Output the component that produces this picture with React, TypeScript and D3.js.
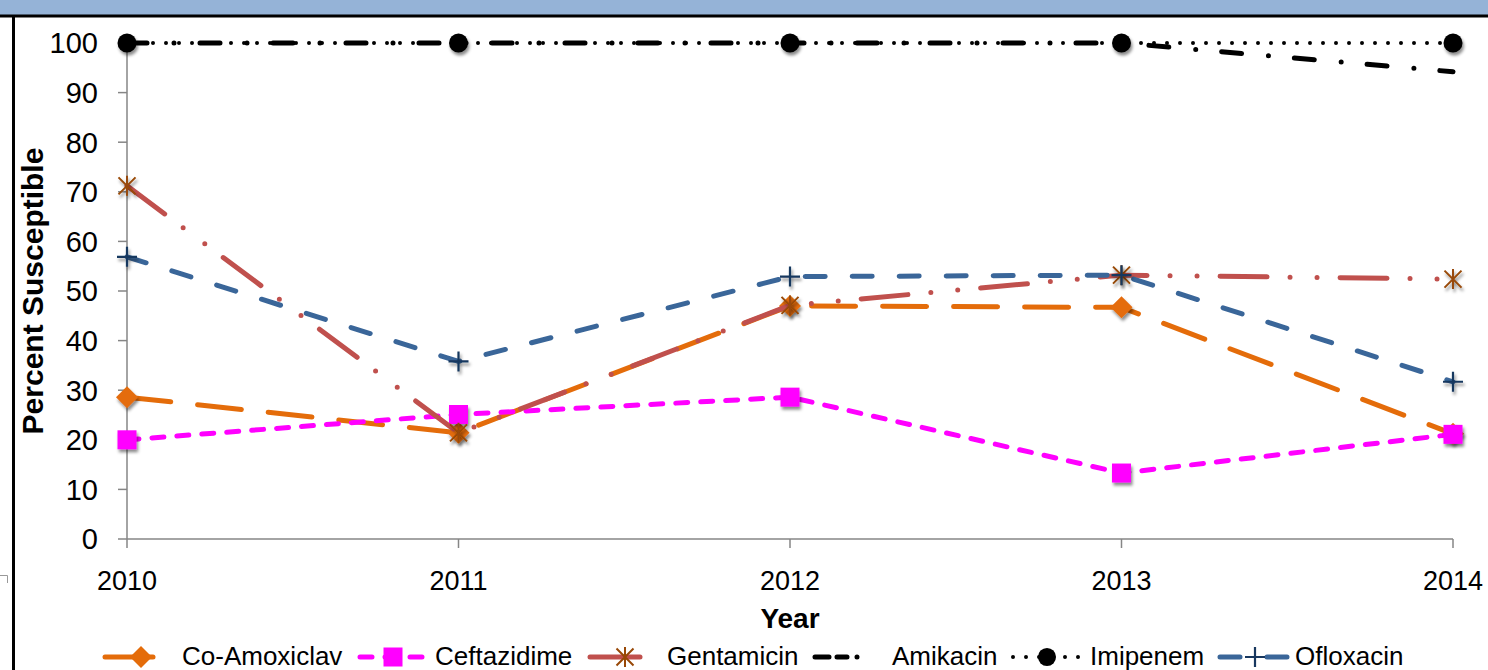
import React from "react";
import * as d3 from "d3";

const years = [2010, 2011, 2012, 2013, 2014];
const yTicks = [0, 10, 20, 30, 40, 50, 60, 70, 80, 90, 100];
const coAmoxiclav = [28.6, 21.4, 47.0, 46.7, 21.2];
const ceftazidime = [20.0, 25.1, 28.6, 13.3, 21.1];
const gentamicin = [71.2, 21.4, 47.1, 53.2, 52.4];
const amikacin = [100, 100, 100, 100, 94.2];
const imipenem = [100, 100, 100, 100, 100];
const ofloxacin = [56.9, 35.8, 52.9, 53.2, 31.7];

type Marker = "diamond" | "square" | "star" | "none" | "circle" | "plus";
interface Series {
  name: string;
  values: number[];
  color: string;
  markerColor: string;
  width: number;
  dash: string;
  legendDash?: string;
  cap: "round" | "butt";
  marker: Marker;
  legendLine: [number, number];
  legendMarker: number;
  legendText: number;
}

const series: Series[] = [
  { name: "Co-Amoxiclav", values: coAmoxiclav, color: "#E46C0A", markerColor: "#E46C0A", width: 5, dash: "44 27", legendDash: "none", cap: "round", marker: "diamond", legendLine: [105, 153], legendMarker: 141, legendText: 182 },
  { name: "Ceftazidime", values: ceftazidime, color: "#FF00FF", markerColor: "#FF00FF", width: 5, dash: "12 13", cap: "round", marker: "square", legendLine: [360, 428], legendMarker: 393, legendText: 435 },
  { name: "Gentamicin", values: gentamicin, color: "#C0504D", markerColor: "#984807", width: 5, dash: "47 23 0 27 0 23", legendDash: "none", cap: "round", marker: "star", legendLine: [590, 640], legendMarker: 625, legendText: 667 },
  { name: "Amikacin", values: amikacin, color: "#000000", markerColor: "#000000", width: 5, dash: "20 27 0 26", legendDash: "14 8 10 10 0 20", cap: "round", marker: "none", legendLine: [815, 866], legendMarker: 840, legendText: 892 },
  { name: "Imipenem", values: imipenem, color: "#000000", markerColor: "#000000", width: 4, dash: "0 13", cap: "round", marker: "circle", legendLine: [1013, 1081], legendMarker: 1047, legendText: 1090 },
  { name: "Ofloxacin", values: ofloxacin, color: "#3A6699", markerColor: "#17375E", width: 5, dash: "20 27", cap: "round", marker: "plus", legendLine: [1220, 1288], legendMarker: 1255, legendText: 1295 },
];

const W = 1488;
const H = 670;
const x = d3.scaleLinear().domain([2010, 2014]).range([127, 1453]);
const y = d3.scaleLinear().domain([0, 100]).range([539, 43]);
const FONT = "'Liberation Sans', Arial, sans-serif";

function MarkerShape({ kind, cx, cy, color, scale = 1 }: { kind: Marker; cx: number; cy: number; color: string; scale?: number }) {
  const s = scale;
  switch (kind) {
    case "diamond": {
      const r = 11 * s;
      return <path d={`M${cx},${cy - r}L${cx + r},${cy}L${cx},${cy + r}L${cx - r},${cy}Z`} fill={color} />;
    }
    case "square": {
      const r = 9.5 * s;
      return <rect x={cx - r} y={cy - r} width={2 * r} height={2 * r} fill={color} />;
    }
    case "circle":
      return <circle cx={cx} cy={cy} r={9.5 * s} fill={color} />;
    case "star": {
      const r = 10 * s;
      const d = r * 0.85;
      return (
        <path
          d={`M${cx},${cy - r}V${cy + r}M${cx - d},${cy - d}L${cx + d},${cy + d}M${cx - d},${cy + d}L${cx + d},${cy - d}`}
          stroke={color}
          strokeWidth={2}
          fill="none"
        />
      );
    }
    case "plus": {
      const r = 10 * s;
      return <path d={`M${cx - r},${cy}H${cx + r}M${cx},${cy - r}V${cy + r}`} stroke={color} strokeWidth={2.2} fill="none" />;
    }
    default:
      return null;
  }
}

export default function App() {
  React.useEffect(() => {
    document.body.style.margin = "0";
  }, []);

  const line = d3
    .line<number>()
    .x((_, i) => x(years[i]))
    .y((v) => y(v));

  return (
    <svg width={W} height={H} style={{ position: "absolute", left: 0, top: 0, background: "#fff" }} fontFamily={FONT}>
      <defs>
        <filter id="shadow" x="-50%" y="-50%" width="200%" height="200%">
          <feDropShadow dx="1.5" dy="3" stdDeviation="1.8" floodColor="#000" floodOpacity="0.45" />
        </filter>
      </defs>
      <rect x={0} y={0} width={W} height={H} fill="#fff" />
      {/* top band and frame */}
      <rect x={0} y={0} width={W} height={15} fill="#95B3D7" />
      <line x1={0} x2={W} y1={16} y2={16} stroke="#000" strokeWidth={3} />
      <line x1={13.5} x2={13.5} y1={16} y2={H} stroke="#000" strokeWidth={3} />
      <path d="M0,575.5H7.5V583" stroke="#999" strokeWidth={1} fill="none" />

      {/* axes */}
      <g stroke="#868686" strokeWidth={1.5}>
        <line x1={x(2010)} x2={x(2010)} y1={y(100)} y2={y(0)} />
        <line x1={x(2010)} x2={x(2014)} y1={y(0)} y2={y(0)} />
        {yTicks.map((t) => (
          <line key={t} x1={x(2010) - 9} x2={x(2010)} y1={y(t)} y2={y(t)} />
        ))}
        {years.map((yr) => (
          <line key={yr} x1={x(yr)} x2={x(yr)} y1={y(0)} y2={y(0) + 9} />
        ))}
      </g>
      <g fontSize={29} fill="#000" textAnchor="end">
        {yTicks.map((t) => (
          <text key={t} x={98} y={y(t)} dy="0.36em">
            {t}
          </text>
        ))}
      </g>
      <g fontSize={27} fill="#000" textAnchor="middle">
        {years.map((yr) => (
          <text key={yr} x={x(yr)} y={590}>
            {yr}
          </text>
        ))}
      </g>
      <text
        transform={`translate(43,${(y(0) + y(100)) / 2}) rotate(-90)`}
        textAnchor="middle"
        fontSize={30}
        fontWeight="bold"
        fill="#000"
      >
        Percent Susceptible
      </text>
      <text x={(x(2010) + x(2014)) / 2} y={628} textAnchor="middle" fontSize={28} fontWeight="bold" fill="#000">
        Year
      </text>

      {/* series */}
      {series.map((s) => (
        <g key={s.name}>
          <path
            d={line(s.values) || ""}
            fill="none"
            stroke={s.color}
            strokeWidth={s.width}
            strokeDasharray={s.dash}
            strokeLinecap={s.cap}
            strokeLinejoin="round"
          />
          <g filter="url(#shadow)">
            {s.values.map((v, i) => (
              <MarkerShape key={i} kind={s.marker} cx={x(years[i])} cy={y(v)} color={s.markerColor} />
            ))}
          </g>
        </g>
      ))}

      {/* legend */}
      <g>
        {series.map((s) => (
          <g key={s.name}>
            <line
              x1={s.legendLine[0]}
              x2={s.legendLine[1]}
              y1={657}
              y2={657}
              stroke={s.color}
              strokeWidth={s.width}
              strokeDasharray={s.legendDash ?? s.dash}
              strokeLinecap={s.cap}
            />
            <MarkerShape kind={s.marker} cx={s.legendMarker} cy={657} color={s.markerColor} scale={s.marker === "circle" ? 0.95 : 1} />
            <text x={s.legendText} y={665} fontSize={26} fill="#000">
              {s.name}
            </text>
          </g>
        ))}
      </g>
    </svg>
  );
}
